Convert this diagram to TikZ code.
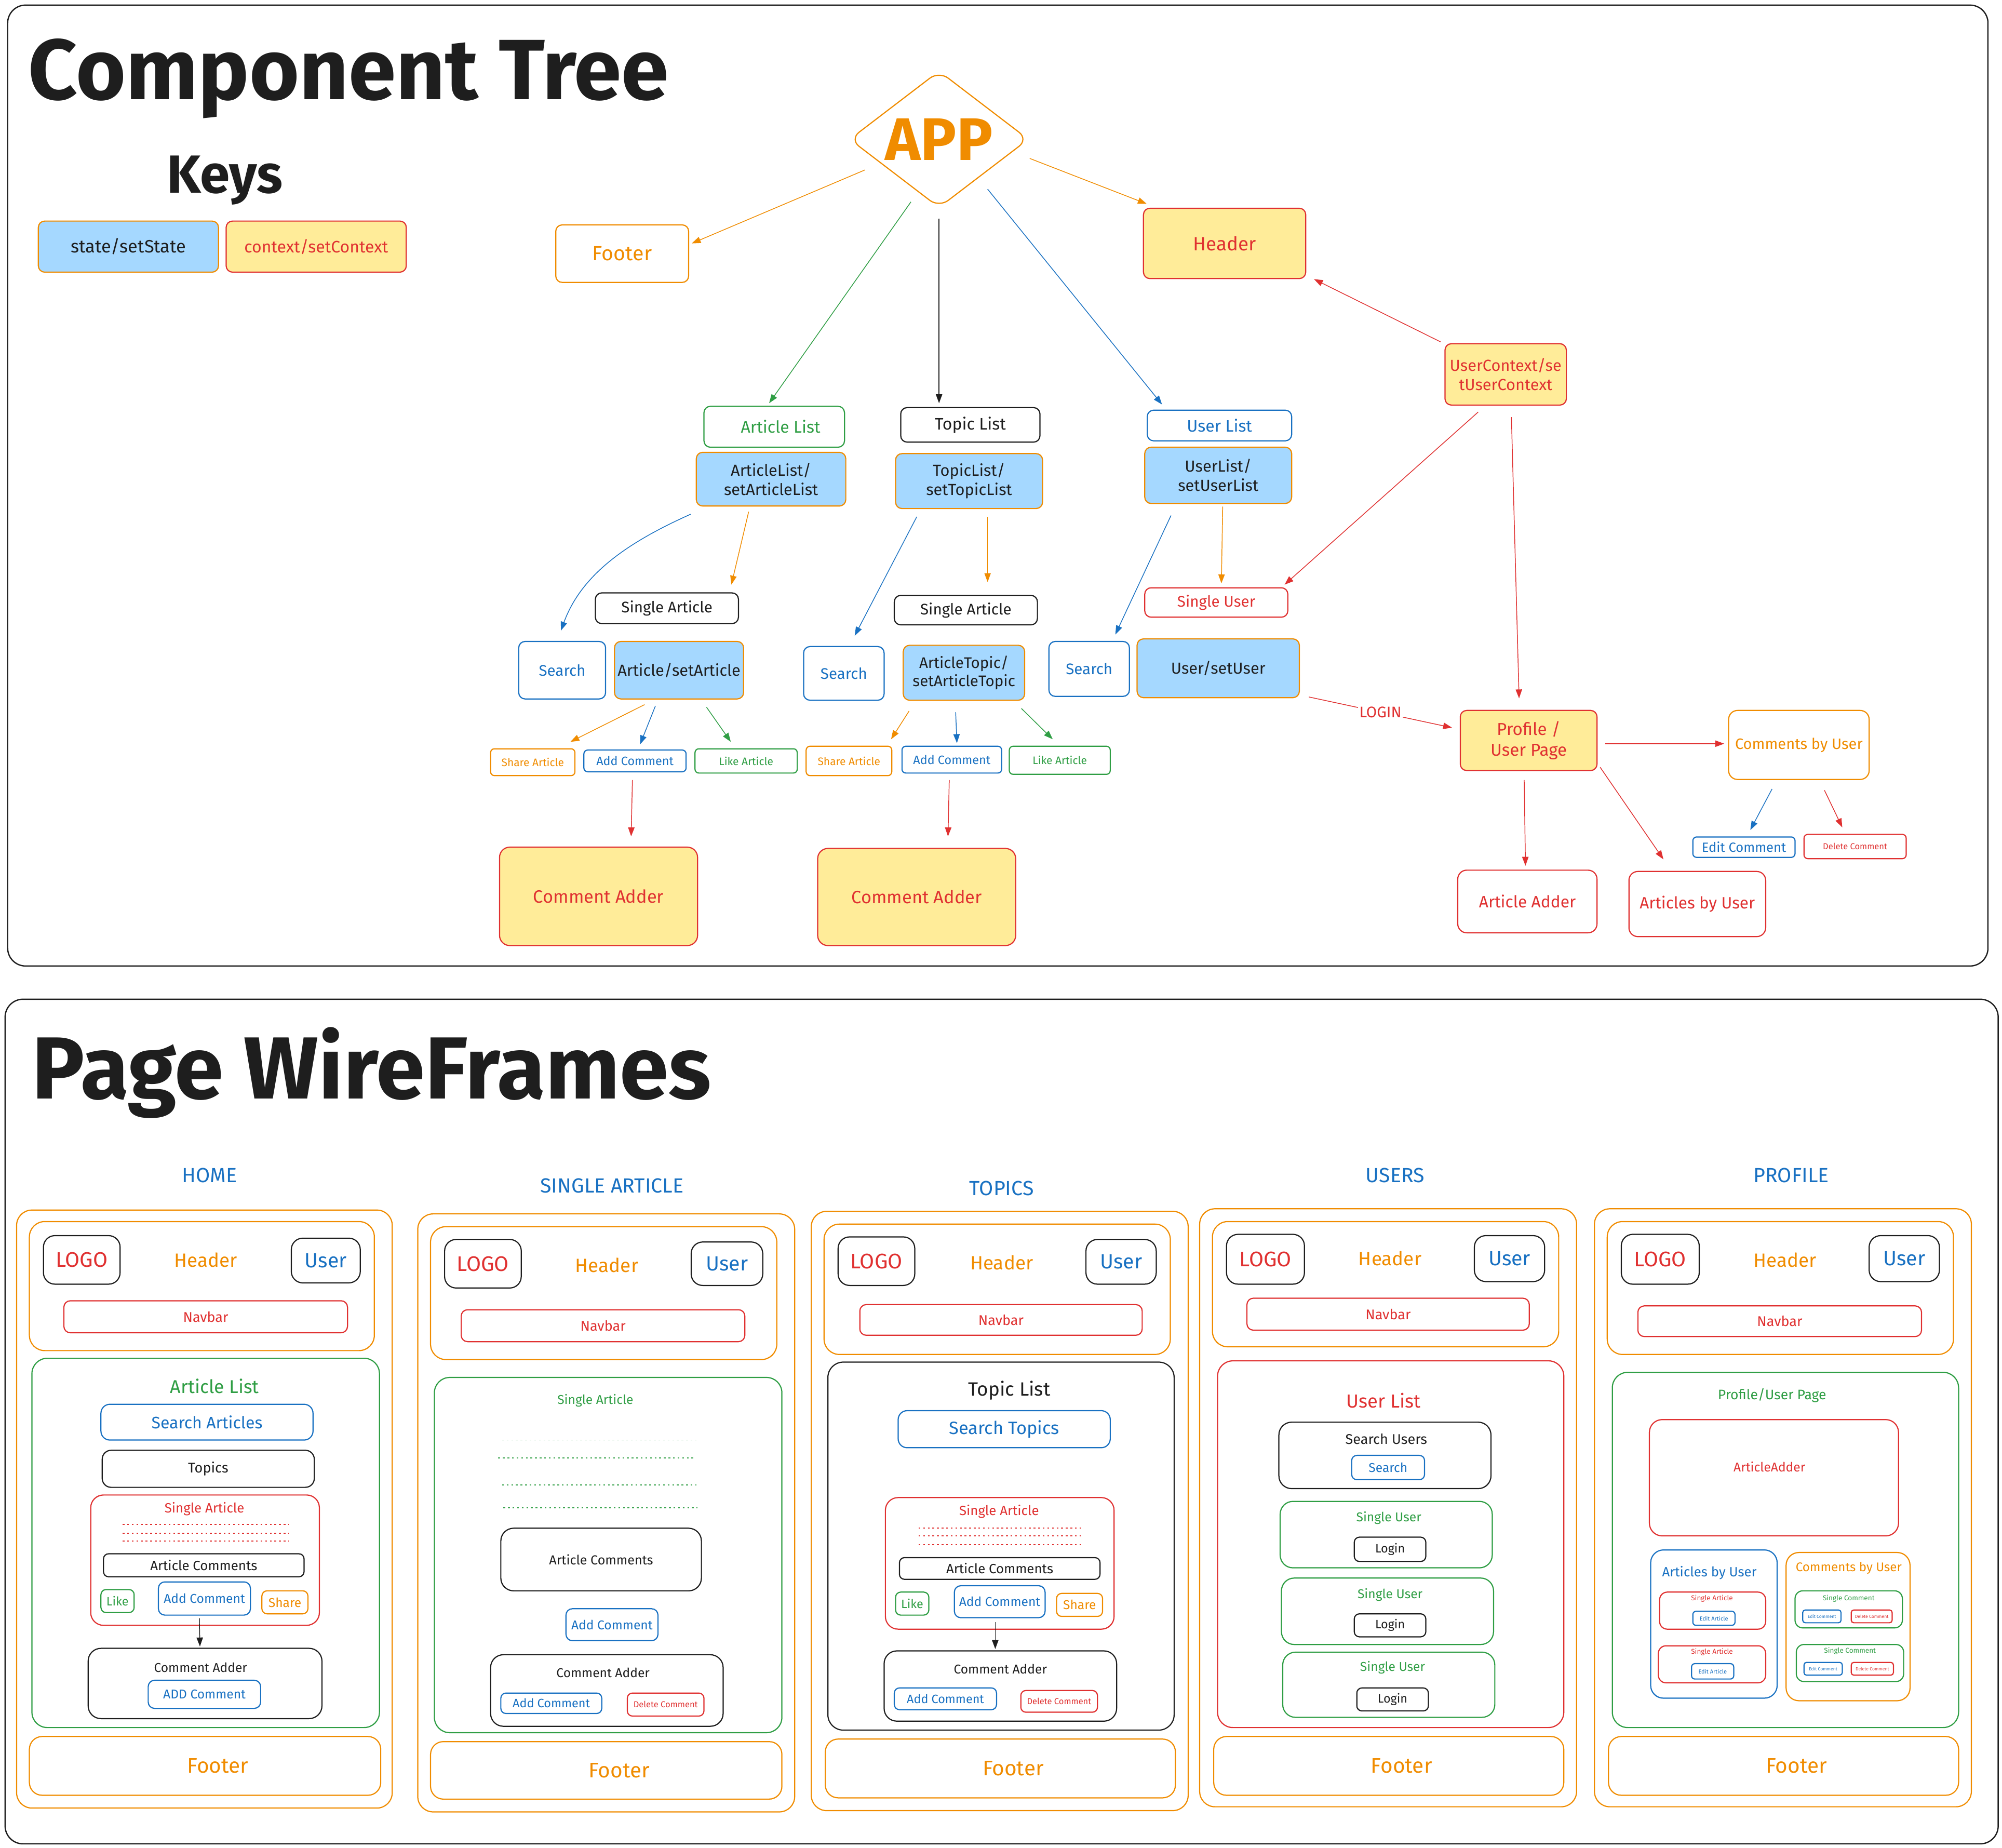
\documentclass[tikz,border=0pt]{standalone}
\usepackage{fontspec}
\setmainfont{Fira Sans}
\usetikzlibrary{shapes.geometric,arrows.meta,calc}
\definecolor{xblack}{HTML}{1E1E1E}
\definecolor{xred}{HTML}{E03131}
\definecolor{xgreen}{HTML}{2F9E44}
\definecolor{xblue}{HTML}{1971C2}
\definecolor{xorange}{HTML}{F08C00}
\definecolor{xlblue}{HTML}{A5D8FF}
\definecolor{xyellow}{HTML}{FFEC99}
\newcommand\fs[1]{\fontsize{#1}{\the\dimexpr #1pt*6/5\relax}\selectfont}
\newcommand\bx[7]{\node[#6, minimum width={#4-#2}, minimum height={#5-#3}] (#1) at ({(#2+#4)/2},{(#3+#5)/2}) {#7};}
\tikzset{
  bxs/.style={draw, rounded corners=5pt, inner sep=0pt, line width=0.9pt, align=center},
  wbox/.style={bxs, rounded corners=12pt},
  st/.style={bxs, fill=xlblue, draw=xorange, text=xblack},
  cx/.style={bxs, fill=xyellow, draw=xred, text=xred},
  ro/.style={bxs, draw=xred, text=xred},
  go/.style={bxs, draw=xgreen, text=xgreen},
  bo/.style={bxs, draw=xblue, text=xblue},
  oo/.style={bxs, draw=xorange, text=xorange},
  ko/.style={bxs, draw=xblack, text=xblack},
  arr/.style={-{Triangle[length=7pt,width=5pt]}, line width=0.6pt},
  dots/.style={line width=0.7pt, dash pattern=on 1.4pt off 2.2pt},
  sect/.style={text=xblue, font=\fs{16}},
  foottxt/.style={text=xorange, font=\fs{16.5}},
}
\begin{document}
\begin{tikzpicture}[x=1pt,y=-1pt]
\useasboundingbox (0,0) rectangle (1567,1446);
\fill[white] (0,0) rectangle (1567,1446);

% ================= COMPONENT TREE =================
\bx{ctframe}{6}{4}{1556}{756}{ko,rounded corners=14pt,line width=1pt}{}
\node[anchor=base west, font=\fs{67}\bfseries, text=xblack, inner sep=0pt] (cttitle) at (22,78) {Component Tree};
\node[font=\fs{42}\bfseries, text=xblack] (keys) at (176,141) {Keys};
\bx{k1}{30}{173}{171}{213}{st,font=\fs{14}}{state/setState}
\bx{k2}{177}{173}{318}{213}{cx,font=\fs{13}}{context/setContext}

\node[diamond, draw=xorange, line width=0.9pt, rounded corners=9pt, minimum width=140pt, minimum height=107pt, inner sep=0pt] (app) at (735,109) {};
\node[text=xorange, font=\fs{47}\bfseries] (apptxt) at (app.center) {APP};

\bx{foot0}{435}{176}{539}{221}{oo,font=\fs{16}}{Footer}
\bx{head0}{895}{163}{1022}{218}{cx,font=\fs{15}}{Header}
\bx{uctx}{1131}{269}{1226}{317}{cx,font=\fs{12.5}}{UserContext/se\\tUserContext}

\bx{al}{551}{318}{661}{350}{go,font=\fs{13}}{\hspace*{10pt}Article List}
\bx{als}{545}{354}{662}{396}{st,font=\fs{12.5}}{ArticleList/\\setArticleList}
\bx{tl}{705}{319}{814}{346}{ko,font=\fs{13}}{Topic List}
\bx{tls}{701}{355}{816}{398}{st,font=\fs{12.5}}{TopicList/\\setTopicList}
\bx{ul}{898}{321}{1011}{345}{bo,font=\fs{13}}{User List}
\bx{uls}{896}{350}{1011}{394}{st,font=\fs{12.5}}{UserList/\\setUserList}

% left subtree
\bx{sa1}{466}{464}{578}{488}{ko,font=\fs{12}}{Single Article}
\bx{se1}{406}{502}{474}{547}{bo,font=\fs{12}}{Search}
\bx{as1}{481}{502}{582}{547}{st,font=\fs{12.5}}{Article/setArticle}
\bx{sh1}{384}{586}{450}{607}{oo,rounded corners=3pt,font=\fs{8.5}}{Share Article}
\bx{ac1}{457}{587}{537}{604}{bo,rounded corners=3pt,font=\fs{9.5}}{Add Comment}
\bx{la1}{544}{586}{624}{605}{go,rounded corners=3pt,font=\fs{8.5}}{Like Article}
\bx{ca1}{391}{663}{546}{740}{cx,rounded corners=8pt,font=\fs{14}}{Comment Adder}

% middle subtree
\bx{sa2}{700}{466}{812}{489}{ko,font=\fs{12}}{Single Article}
\bx{se2}{629}{506}{692}{548}{bo,font=\fs{12}}{Search}
\bx{as2}{707}{505}{802}{548}{st,font=\fs{12}}{ArticleTopic/\\setArticleTopic}
\bx{sh2}{631}{584}{698}{607}{oo,rounded corners=3pt,font=\fs{8.5}}{Share Article}
\bx{ac2}{706}{584}{784}{605}{bo,rounded corners=3pt,font=\fs{9.5}}{Add Comment}
\bx{la2}{790}{584}{869}{606}{go,rounded corners=3pt,font=\fs{8.5}}{Like Article}
\bx{ca2}{640}{664}{795}{740}{cx,rounded corners=8pt,font=\fs{14}}{Comment Adder}

% right subtree
\bx{su}{896}{460}{1008}{483}{ro,font=\fs{12}}{Single User}
\bx{se3}{821}{502}{884}{545}{bo,font=\fs{12}}{Search}
\bx{us}{890}{500}{1017}{546}{st,font=\fs{12.5}}{User/setUser}
\bx{prof}{1143}{556}{1250}{603}{cx,font=\fs{13.5}}{Profile /\\User Page}
\bx{cbu}{1353}{556}{1463}{610}{oo,rounded corners=7pt,font=\fs{11.8}}{Comments by User}
\bx{ec}{1325}{655}{1405}{671}{bo,rounded corners=3pt,font=\fs{10.4}}{Edit Comment}
\bx{dc}{1412}{653}{1492}{672}{ro,rounded corners=3pt,font=\fs{6.7}}{Delete Comment}
\bx{aa}{1141}{681}{1250}{730}{ro,rounded corners=7pt,font=\fs{12.9}}{Article Adder}
\bx{abu}{1275}{682}{1382}{733}{ro,rounded corners=7pt,font=\fs{12.8}}{Articles by User}

% arrows
\draw[arr,xorange] ($(app)+(-58,24)$) -- ($(foot0.east)+(2,-8)$);
\draw[arr,xorange] ($(app)+(71,15)$) -- ($(head0.north west)+(3,-3)$);
\draw[arr,xgreen] ($(app)+(-22,49)$) -- ($(al.north)+(-4,-2)$);
\draw[arr,xblack] ($(app.south)+(0,8)$) -- ($(tl.north)+(-24.5,-3)$);
\draw[arr,xblue] ($(app)+(38,39)$) -- ($(ul.north west)+(12,-4)$);
\draw[arr,xred] ($(uctx.north west)+(-3,-1)$) -- ($(head0.south east)+(6,0)$);
\draw[arr,xred] ($(uctx.south)+(-21.5,5)$) -- ($(su.north east)+(-3,-2)$);
\draw[arr,xred] ($(uctx.south)+(4.5,9)$) -- ($(prof.north)+(-7.5,-9)$);

\draw[arr,xblue] ($(als.south west)+(-4,6)$) .. controls (490,425) and (455,450) .. ($(se1.north)+(-1,-8)$);
\draw[arr,xorange] ($(als.south)+(-17.5,4)$) -- ($(sa1.north east)+(-6,-6)$);
\draw[arr,xorange] ($(as1.south west)+(24,4)$) -- ($(sh1.north east)+(-4,-5)$);
\draw[arr,xblue] ($(as1.south)+(-18.5,5)$) -- ($(ac1.north)+(4,-4)$);
\draw[arr,xgreen] ($(as1.south)+(21.5,6)$) -- ($(la1.north)+(-12,-5)$);
\draw[arr,xred] ($(ac1.south)+(-2,6)$) -- ($(ca1.north)+(25.5,-8)$);

\draw[arr,xblue] ($(tls.south west)+(17,6)$) -- ($(se2.north)+(8.5,-8)$);
\draw[arr,xorange] ($(tls.south)+(14.5,6)$) -- ($(sa2.north)+(17,-10)$);
\draw[arr,xorange] ($(as2.south west)+(5,8)$) -- ($(sh2.north east)+(-1,-5)$);
\draw[arr,xblue] ($(as2.south)+(-6.5,9)$) -- ($(ac2.north)+(4,-2)$);
\draw[arr,xgreen] ($(as2.south east)+(-3,6)$) -- ($(la2.north)+(-5.5,-5)$);
\draw[arr,xred] ($(ac2.south)+(-2,5)$) -- ($(ca2.north)+(24.5,-9)$);

\draw[arr,xblue] ($(uls.south west)+(21,9)$) -- ($(se3.north)+(20.5,-5)$);
\draw[arr,xorange] ($(uls.south)+(3.5,2)$) -- ($(su.north)+(4,-3)$);
\draw[arr,xred] ($(us.south east)+(7,-1)$) -- node[fill=white, inner sep=1pt, text=xred, font=\fs{12}] (login) {LOGIN} ($(prof.west)+(-6,-10)$);
\draw[arr,xred] ($(prof.east)+(6,2.5)$) -- ($(cbu.west)+(-3,-1)$);
\draw[arr,xblue] ($(cbu.south)+(-21,7)$) -- ($(ec.north)+(5,-5)$);
\draw[arr,xred] ($(cbu.south)+(20,8)$) -- ($(dc.north)+(-10,-5)$);
\draw[arr,xred] ($(prof.south)+(-3.5,7)$) -- ($(aa.north)+(-1.5,-3)$);
\draw[arr,xred] ($(prof.south east)+(2,-3)$) -- ($(abu.north)+(-26.5,-9)$);

% ================= PAGE WIREFRAMES =================
\bx{pwframe}{4}{782}{1564}{1443}{ko,rounded corners=14pt,line width=1pt}{}
\node[anchor=base west, font=\fs{69}\bfseries, text=xblack, inner sep=0pt] (pwtitle) at (25,860) {Page WireFrames};

\node[sect] (t-home) at (164,920) {HOME};
\node[sect] (t-sart) at (479,928) {SINGLE ARTICLE};
\node[sect] (t-top) at (784,930) {TOPICS};
\node[sect] (t-usr) at (1092,920) {USERS};
\node[sect] (t-prf) at (1402,920) {PROFILE};

% ---- HOME ----
\bx{h-out}{13}{947}{307}{1415}{wbox,draw=xorange}{}
\bx{h-hdr}{23}{956}{293}{1057}{wbox,draw=xorange}{}
\bx{h-logo}{34}{967}{94}{1005}{ko,rounded corners=9pt,text=xred,font=\fs{16.5}}{LOGO}
\node[text=xorange, font=\fs{15}] (h-htxt) at (161,986) {Header};
\bx{h-user}{228}{969}{282}{1004}{ko,rounded corners=9pt,text=xblue,font=\fs{16}}{User}
\bx{h-nav}{50}{1018}{272}{1043}{ro,font=\fs{11}}{Navbar}
\bx{h-al}{25}{1063}{297}{1352}{wbox,draw=xgreen}{}
\node[text=xgreen, font=\fs{14.5}] (h-altxt) at (168,1085) {Article List};
\bx{h-sa}{79}{1099}{245}{1127}{bo,rounded corners=7pt,font=\fs{13}}{Search Articles}
\bx{h-top}{80}{1135}{246}{1164}{ko,rounded corners=7pt,font=\fs{11}}{Topics}
\bx{h-single}{71}{1170}{250}{1272}{ro,rounded corners=10pt}{}
\node[text=xred, font=\fs{10.5}] (h-sgtxt) at (160,1181) {Single Article};
\draw[dots,xred] (96,1193) -- (226,1193);
\draw[dots,xred] (96,1200) -- (226,1200);
\draw[dots,xred] (96,1206) -- (226,1206);
\bx{h-acom}{81}{1216}{238}{1234}{ko,rounded corners=4pt,font=\fs{10.5}}{Article Comments}
\bx{h-like}{79}{1244}{105}{1262}{go,rounded corners=4pt,font=\fs{9.5}}{Like}
\bx{h-addc}{124}{1238}{196}{1264}{bo,rounded corners=5pt,font=\fs{10}}{Add Comment}
\bx{h-share}{205}{1245}{241}{1263}{oo,rounded corners=4pt,font=\fs{10}}{Share}
\bx{h-cadd}{69}{1290}{252}{1345}{ko,rounded corners=10pt}{}
\node[text=xblack, font=\fs{10}] (h-catxt) at (157,1305) {Comment Adder};
\bx{h-ADD}{116}{1315}{204}{1337}{bo,rounded corners=5pt,font=\fs{10}}{ADD Comment}
\draw[arr,xblack] ($(h-addc.south)+(-4,2)$) -- ($(h-cadd.north)+(-4,-1)$);
\bx{h-foot}{23}{1359}{298}{1405}{oo,rounded corners=10pt}{}
\node[foottxt] (h-foottxt) at ($(h-foot)+(10,0)$) {Footer};

% ---- SINGLE ARTICLE ----
\bx{s-out}{327}{950}{622}{1418}{wbox,draw=xorange}{}
\bx{s-hdr}{337}{960}{608}{1064}{wbox,draw=xorange}{}
\bx{s-logo}{348}{970}{408}{1008}{ko,rounded corners=9pt,text=xred,font=\fs{16.5}}{LOGO}
\node[text=xorange, font=\fs{15}] (s-htxt) at (475,990) {Header};
\bx{s-user}{541}{972}{597}{1006}{ko,rounded corners=9pt,text=xblue,font=\fs{16}}{User}
\bx{s-nav}{361}{1025}{583}{1050}{ro,font=\fs{11}}{Navbar}
\bx{s-main}{340}{1078}{612}{1356}{wbox,draw=xgreen}{}
\node[text=xgreen, font=\fs{10}] (s-sgtxt) at (466,1096) {Single Article};
\draw[dots,xgreen] (393,1127) -- (545,1127);
\draw[dots,xgreen] (390,1141) -- (543,1141);
\draw[dots,xgreen] (393,1162) -- (545,1162);
\draw[dots,xgreen] (394,1180) -- (546,1180);
\bx{s-acom}{392}{1196}{549}{1245}{ko,rounded corners=10pt,font=\fs{10.2}}{Article Comments}
\bx{s-addc}{443}{1259}{515}{1284}{bo,rounded corners=5pt,font=\fs{10}}{Add Comment}
\bx{s-cadd}{384}{1295}{566}{1351}{ko,rounded corners=10pt}{}
\node[text=xblack, font=\fs{10}] (s-catxt) at (472,1309) {Comment Adder};
\bx{s-add2}{392}{1325}{471}{1341}{bo,rounded corners=4pt,font=\fs{9.5}}{Add Comment}
\bx{s-del}{491}{1325}{551}{1343}{ro,rounded corners=4pt,font=\fs{6.7}}{Delete Comment}
\bx{s-foot}{337}{1363}{612}{1408}{oo,rounded corners=10pt}{}
\node[foottxt] (s-foottxt) at ($(s-foot)+(10,0)$) {Footer};

% ---- TOPICS ----
\bx{t-out}{635}{948}{930}{1417}{wbox,draw=xorange}{}
\bx{t-hdr}{645}{958}{916}{1060}{wbox,draw=xorange}{}
\bx{t-logo}{656}{968}{716}{1006}{ko,rounded corners=9pt,text=xred,font=\fs{16.5}}{LOGO}
\node[text=xorange, font=\fs{15}] (t-htxt) at (784,988) {Header};
\bx{t-user}{850}{970}{905}{1005}{ko,rounded corners=9pt,text=xblue,font=\fs{16}}{User}
\bx{t-nav}{673}{1021}{894}{1045}{ro,font=\fs{11}}{Navbar}
\bx{t-main}{648}{1066}{919}{1354}{wbox,draw=xblack}{}
\node[text=xblack, font=\fs{15}] (t-tltxt) at (790,1088) {Topic List};
\bx{t-st}{703}{1104}{869}{1133}{bo,rounded corners=7pt,font=\fs{14}}{Search Topics}
\bx{t-single}{693}{1172}{872}{1275}{ro,rounded corners=10pt}{}
\node[text=xred, font=\fs{10.5}] (t-sgtxt) at (782,1183) {Single Article};
\draw[dots,xred] (719,1196) -- (848,1196);
\draw[dots,xred] (719,1202) -- (848,1202);
\draw[dots,xred] (719,1209) -- (848,1209);
\bx{t-acom}{704}{1219}{861}{1236}{ko,rounded corners=4pt,font=\fs{10.5}}{Article Comments}
\bx{t-like}{701}{1246}{727}{1264}{go,rounded corners=4pt,font=\fs{9.5}}{Like}
\bx{t-addc}{747}{1241}{818}{1266}{bo,rounded corners=5pt,font=\fs{10}}{Add Comment}
\bx{t-share}{827}{1247}{863}{1265}{oo,rounded corners=4pt,font=\fs{10}}{Share}
\bx{t-cadd}{692}{1292}{874}{1347}{ko,rounded corners=10pt}{}
\node[text=xblack, font=\fs{10}] (t-catxt) at (783,1306) {Comment Adder};
\bx{t-add2}{700}{1321}{780}{1338}{bo,rounded corners=4pt,font=\fs{9.5}}{Add Comment}
\bx{t-del}{799}{1323}{859}{1340}{ro,rounded corners=4pt,font=\fs{6.7}}{Delete Comment}
\draw[arr,xblack] ($(t-addc.south)+(-3.5,3)$) -- ($(t-cadd.north)+(-4,-1)$);
\bx{t-foot}{646}{1361}{920}{1407}{oo,rounded corners=10pt}{}
\node[foottxt] (t-foottxt) at ($(t-foot)+(10,0)$) {Footer};

% ---- USERS ----
\bx{u-out}{939}{946}{1234}{1414}{wbox,draw=xorange}{}
\bx{u-hdr}{949}{956}{1220}{1054}{wbox,draw=xorange}{}
\bx{u-logo}{960}{966}{1021}{1005}{ko,rounded corners=9pt,text=xred,font=\fs{16.5}}{LOGO}
\node[text=xorange, font=\fs{15}] (u-htxt) at (1088,985) {Header};
\bx{u-user}{1154}{967}{1209}{1003}{ko,rounded corners=9pt,text=xblue,font=\fs{16}}{User}
\bx{u-nav}{976}{1016}{1197}{1041}{ro,font=\fs{11}}{Navbar}
\bx{u-main}{953}{1065}{1224}{1352}{wbox,draw=xred}{}
\node[text=xred, font=\fs{14.8}] (u-ultxt) at (1083,1096) {User List};
\bx{u-su}{1001}{1113}{1167}{1165}{ko,rounded corners=10pt}{}
\node[text=xblack, font=\fs{11}] (u-sutxt) at (1085,1126) {Search Users};
\bx{u-sbtn}{1058}{1139}{1115}{1158}{bo,rounded corners=4pt,font=\fs{10}}{Search}
\bx{u-s1}{1002}{1175}{1168}{1227}{go,rounded corners=10pt}{}
\node[text=xgreen, font=\fs{10}] (u-s1txt) at (1087,1188) {Single User};
\bx{u-l1}{1060}{1203}{1116}{1222}{ko,rounded corners=4pt,font=\fs{9.5}}{Login}
\bx{u-s2}{1003}{1235}{1169}{1287}{go,rounded corners=10pt}{}
\node[text=xgreen, font=\fs{10}] (u-s2txt) at (1088,1248) {Single User};
\bx{u-l2}{1060}{1263}{1116}{1281}{ko,rounded corners=4pt,font=\fs{9.5}}{Login}
\bx{u-s3}{1004}{1293}{1170}{1344}{go,rounded corners=10pt}{}
\node[text=xgreen, font=\fs{10}] (u-s3txt) at (1090,1305) {Single User};
\bx{u-l3}{1062}{1321}{1118}{1339}{ko,rounded corners=4pt,font=\fs{9.5}}{Login}
\bx{u-foot}{950}{1359}{1224}{1405}{oo,rounded corners=10pt}{}
\node[foottxt] (u-foottxt) at ($(u-foot)+(10,0)$) {Footer};

% ---- PROFILE ----
\bx{p-out}{1248}{946}{1543}{1414}{wbox,draw=xorange}{}
\bx{p-hdr}{1258}{956}{1529}{1060}{wbox,draw=xorange}{}
\bx{p-logo}{1269}{966}{1330}{1005}{ko,rounded corners=9pt,text=xred,font=\fs{16.5}}{LOGO}
\node[text=xorange, font=\fs{15}] (p-htxt) at (1397,986) {Header};
\bx{p-user}{1463}{967}{1518}{1003}{ko,rounded corners=9pt,text=xblue,font=\fs{16}}{User}
\bx{p-nav}{1282}{1022}{1504}{1046}{ro,font=\fs{11}}{Navbar}
\bx{p-main}{1262}{1074}{1533}{1352}{wbox,draw=xgreen}{}
\node[text=xgreen, font=\fs{10.8}] (p-pgtxt) at (1387,1092) {Profile/User Page};
\bx{p-aa}{1291}{1111}{1486}{1202}{ro,rounded corners=10pt}{}
\node[text=xred, font=\fs{10}] (p-aatxt) at (1385,1148) {ArticleAdder};
\bx{p-abu}{1292}{1213}{1391}{1329}{bo,rounded corners=10pt}{}
\node[text=xblue, font=\fs{10.5}] (p-abutxt) at (1338,1231) {Articles by User};
\bx{p-sa1}{1299}{1246}{1382}{1275}{ro,rounded corners=6pt}{}
\node[text=xred, font=\fs{5.5}] (p-sa1txt) at (1340,1251) {Single Article};
\bx{p-ea1}{1325}{1261}{1358}{1272}{bo,rounded corners=2.5pt,font=\fs{4.5}}{Edit Article}
\bx{p-sa2}{1298}{1288}{1382}{1317}{ro,rounded corners=6pt}{}
\node[text=xred, font=\fs{5.5}] (p-sa2txt) at (1340,1293) {Single Article};
\bx{p-ea2}{1324}{1302}{1357}{1314}{bo,rounded corners=2.5pt,font=\fs{4.5}}{Edit Article}
\bx{p-cbu}{1398}{1215}{1495}{1331}{oo,rounded corners=10pt}{}
\node[text=xorange, font=\fs{9.8}] (p-cbutxt) at (1447,1227) {Comments by User};
\bx{p-sc1}{1405}{1245}{1489}{1274}{go,rounded corners=6pt}{}
\node[text=xgreen, font=\fs{5.5}] (p-sc1txt) at (1447,1251) {Single Comment};
\bx{p-ec1}{1411}{1260}{1441}{1270}{bo,rounded corners=2pt,font=\fs{3.5}}{Edit Comment}
\bx{p-dc1}{1449}{1260}{1481}{1270}{ro,rounded corners=2pt,font=\fs{3.5}}{Delete Comment}
\bx{p-sc2}{1406}{1287}{1490}{1316}{go,rounded corners=6pt}{}
\node[text=xgreen, font=\fs{5.5}] (p-sc2txt) at (1448,1292) {Single Comment};
\bx{p-ec2}{1412}{1301}{1442}{1311}{bo,rounded corners=2pt,font=\fs{3.5}}{Edit Comment}
\bx{p-dc2}{1449}{1301}{1482}{1311}{ro,rounded corners=2pt,font=\fs{3.5}}{Delete Comment}
\bx{p-foot}{1259}{1359}{1533}{1405}{oo,rounded corners=10pt}{}
\node[foottxt] (p-foottxt) at ($(p-foot)+(10,0)$) {Footer};

\end{tikzpicture}
\end{document}
